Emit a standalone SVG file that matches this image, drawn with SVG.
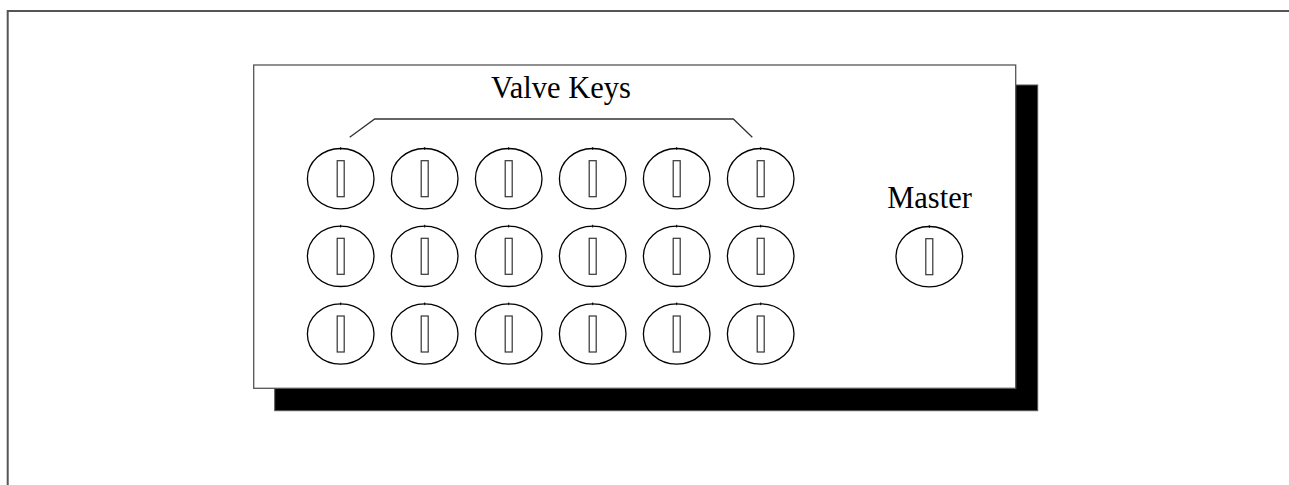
<svg xmlns="http://www.w3.org/2000/svg" width="1289" height="485" viewBox="0 0 1289 485">
<style>
.lbl{font-family:"Liberation Serif","Times New Roman",serif;font-size:30.5px;fill:#000;text-anchor:middle}
.ko{fill:#fff;stroke:#000;stroke-width:1.3}
.ks{fill:#fff;stroke:#333;stroke-width:1.2}
.kt{stroke:#000;stroke-width:1}
</style>
<defs>
<g id="k">
<ellipse class="ko" cx="0" cy="0" rx="33.3" ry="30.2"/>
<line class="kt" x1="0" y1="-31.5" x2="0" y2="-28.8"/>
<rect class="ks" x="-3.5" y="-18" width="7" height="36"/>
</g>
</defs>
<rect width="1289" height="485" fill="#fff"/>
<path d="M7.7,485 V11 H1289" fill="none" stroke="#555" stroke-width="2"/>
<g id="panel">
<rect x="274.7" y="85" width="763" height="325.7" fill="#000" stroke="#555" stroke-width="1"/>
<rect x="253.7" y="65" width="762" height="323.3" fill="#fff" stroke="#555" stroke-width="1.3"/>
</g>
<g id="connectors">
<polyline points="349.7,137.3 374.7,119 733.3,119 752.3,137.3" fill="none" stroke="#333" stroke-width="1.3"/>
</g>
<text class="lbl" x="561" y="98">Valve Keys</text>
<text class="lbl" x="929.5" y="208">Master</text>
<g id="keys">
<use href="#k" x="340.7" y="178.7"/><use href="#k" x="424.7" y="178.7"/><use href="#k" x="508.7" y="178.7"/><use href="#k" x="592.7" y="178.7"/><use href="#k" x="676.7" y="178.7"/><use href="#k" x="760.7" y="178.7"/>
<use href="#k" x="340.7" y="256.3"/><use href="#k" x="424.7" y="256.3"/><use href="#k" x="508.7" y="256.3"/><use href="#k" x="592.7" y="256.3"/><use href="#k" x="676.7" y="256.3"/><use href="#k" x="760.7" y="256.3"/>
<use href="#k" x="340.7" y="334"/><use href="#k" x="424.7" y="334"/><use href="#k" x="508.7" y="334"/><use href="#k" x="592.7" y="334"/><use href="#k" x="676.7" y="334"/><use href="#k" x="760.7" y="334"/>
</g>
<g id="master">
<use href="#k" x="929.3" y="256.7"/>
</g>
</svg>
